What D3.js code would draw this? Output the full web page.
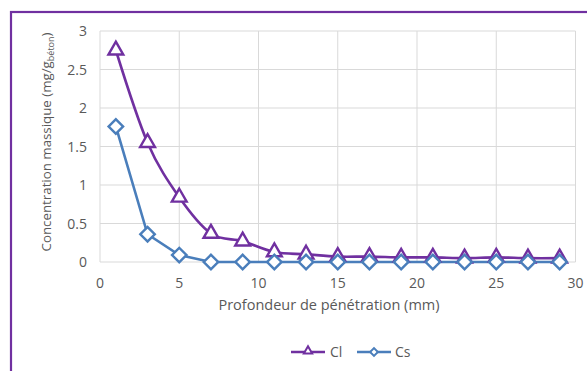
<!DOCTYPE html>
<html><head><meta charset="utf-8">
<script src="https://cdn.jsdelivr.net/npm/d3@7"></script>
<style>body{margin:0;background:#fff}text{font-family:"Open Sans","Liberation Sans",Arial,sans-serif;fill:#595959}</style>
</head><body><svg id="c" width="587" height="371"></svg>
<script>
const depth = [1,3,5,7,9,11,13,15,17,19,21,23,25,27,29];
const cl = [2.75,1.55,0.84,0.37,0.27,0.13,0.10,0.07,0.07,0.06,0.06,0.05,0.06,0.05,0.05];
const cs = [1.76,0.36,0.09,0,0,0,0,0,0,0,0,0,0,0,0];
const xTicks = [0,5,10,15,20,25,30];
const yTicks = [0,0.5,1,1.5,2,2.5,3];
const seriesNames = ["Cl","Cs"];

const svg = d3.select("#c");
svg.append("rect").attr("x",11).attr("y",12).attr("width",600).attr("height",400)
  .attr("fill","none").attr("stroke","#7030A0").attr("stroke-width",2.2);

const x = d3.scaleLinear().domain([0,30]).range([100,575.5]);
const y = d3.scaleLinear().domain([0,3]).range([262,31]);

const g = svg.append("g");
g.selectAll(".vg").data(xTicks).join("line").attr("x1",d=>x(d)).attr("x2",d=>x(d))
  .attr("y1",y(3)).attr("y2",y(0)).attr("stroke","#d9d9d9").attr("stroke-width",1);
g.selectAll(".hg").data(yTicks).join("line").attr("x1",x(0)).attr("x2",x(30))
  .attr("y1",d=>y(d)).attr("y2",d=>y(d)).attr("stroke","#d9d9d9").attr("stroke-width",1);

g.selectAll(".yt").data(yTicks).join("text").attr("x",87).attr("y",d=>y(d)+5)
  .attr("text-anchor","end").attr("font-size",14).text(d=>d);
g.selectAll(".xt").data(xTicks).join("text").attr("x",d=>x(d)).attr("y",288)
  .attr("text-anchor","middle").attr("font-size",14).text(d=>d);

svg.append("text").attr("x",329).attr("y",310).attr("text-anchor","middle").attr("font-size",14.5)
  .text("Profondeur de pénétration (mm)");
const yl = svg.append("text").attr("transform","translate(51,142) rotate(-90)").attr("text-anchor","middle").attr("font-size",13.3);
yl.append("tspan").text("Concentration massique (mg/g");
yl.append("tspan").attr("font-size",9).attr("dy",3).text("béton");
yl.append("tspan").attr("dy",-3).text(")");

const purple = "#7030A0", blue = "#4A7EBB";
const lineCl = d3.line().x((d,i)=>x(depth[i])).y(d=>y(d)).curve(d3.curveCatmullRom.alpha(0));
const lineCs = d3.line().x((d,i)=>x(depth[i])).y(d=>y(d));
svg.append("path").attr("d",lineCl(cl)).attr("fill","none").attr("stroke",purple).attr("stroke-width",2.6);
svg.append("path").attr("d",lineCs(cs)).attr("fill","none").attr("stroke",blue).attr("stroke-width",2.6);

const tri = d3.symbol().type(d3.symbolTriangle).size(95);
const dia = d3.symbol().type(d3.symbolSquare).size(105);
svg.selectAll(".mcl").data(cl).join("path").attr("d",tri)
  .attr("transform",(d,i)=>`translate(${x(depth[i])},${y(d)})`)
  .attr("fill","#fff").attr("stroke",purple).attr("stroke-width",2.4);
svg.selectAll(".mcs").data(cs).join("path").attr("d",dia)
  .attr("transform",(d,i)=>`translate(${x(depth[i])},${y(d)}) rotate(45)`)
  .attr("fill","#fff").attr("stroke",blue).attr("stroke-width",2.4);

// legend
const lg = svg.append("g");
lg.append("line").attr("x1",291).attr("x2",325).attr("y1",352).attr("y2",352).attr("stroke",purple).attr("stroke-width",2.6);
lg.append("path").attr("d",d3.symbol().type(d3.symbolTriangle).size(30)).attr("transform","translate(308,351)")
  .attr("fill","#fff").attr("stroke",purple).attr("stroke-width",2);
lg.append("text").attr("x",330).attr("y",357).attr("font-size",14).text(seriesNames[0]);
lg.append("line").attr("x1",357).attr("x2",391).attr("y1",352).attr("y2",352).attr("stroke",blue).attr("stroke-width",2.6);
lg.append("path").attr("d",d3.symbol().type(d3.symbolSquare).size(30)).attr("transform","translate(374,352) rotate(45)")
  .attr("fill","#fff").attr("stroke",blue).attr("stroke-width",2);
lg.append("text").attr("x",395).attr("y",357).attr("font-size",14).text(seriesNames[1]);
</script></body></html>
